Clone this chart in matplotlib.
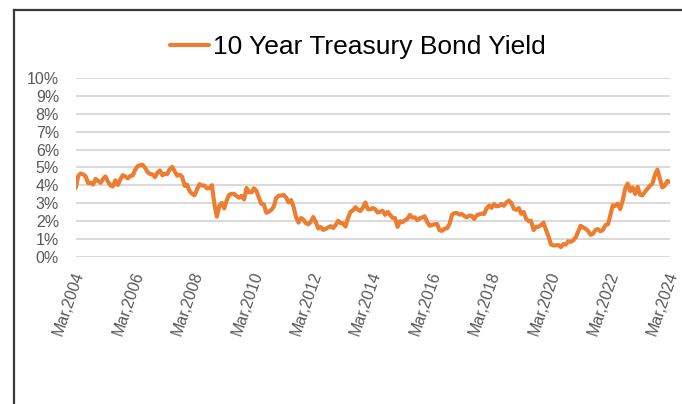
import numpy as np
import pandas as pd
import matplotlib
matplotlib.use("Agg")
import matplotlib.pyplot as plt
import matplotlib.transforms as mtransforms
from matplotlib.lines import Line2D

plt.rcParams['font.family'] = ['Liberation Sans', 'DejaVu Sans']

# Month-end 10-year Treasury yields (%), March 2004 - March 2024
series_name = "10 Year Treasury Bond Yield"
start_month = "2004-03"
yields = [
    # 2004 (Mar-Dec)
    3.86, 4.53, 4.66, 4.62, 4.50, 4.13, 4.14, 4.05, 4.36, 4.24,
    # 2005
    4.14, 4.36, 4.50, 4.21, 4.00, 3.94, 4.28, 4.02, 4.34, 4.57, 4.49, 4.39,
    # 2006
    4.53, 4.55, 4.86, 5.07, 5.12, 5.15, 4.99, 4.74, 4.64, 4.61, 4.46, 4.71,
    # 2007
    4.83, 4.56, 4.65, 4.63, 4.90, 5.03, 4.78, 4.54, 4.59, 4.48, 3.97, 4.04,
    # 2008
    3.67, 3.53, 3.45, 3.77, 4.06, 3.99, 3.99, 3.83, 3.85, 4.01, 2.93, 2.25,
    # 2009
    2.87, 3.02, 2.71, 3.16, 3.47, 3.53, 3.52, 3.40, 3.31, 3.41, 3.21, 3.85,
    # 2010
    3.63, 3.61, 3.84, 3.69, 3.31, 2.97, 2.94, 2.47, 2.53, 2.63, 2.81, 3.30,
    # 2011
    3.42, 3.43, 3.47, 3.32, 3.05, 3.18, 2.82, 2.23, 1.92, 2.17, 2.08, 1.89,
    # 2012
    1.83, 1.98, 2.23, 1.95, 1.59, 1.67, 1.51, 1.57, 1.65, 1.72, 1.62, 1.78,
    # 2013
    2.02, 1.89, 1.87, 1.70, 2.16, 2.52, 2.60, 2.78, 2.64, 2.57, 2.75, 3.04,
    # 2014
    2.67, 2.66, 2.73, 2.67, 2.48, 2.53, 2.58, 2.35, 2.52, 2.35, 2.18, 2.17,
    # 2015
    1.68, 2.00, 1.94, 2.05, 2.12, 2.35, 2.20, 2.21, 2.06, 2.16, 2.21, 2.27,
    # 2016
    1.94, 1.74, 1.78, 1.83, 1.84, 1.49, 1.46, 1.58, 1.60, 1.84, 2.37, 2.45,
    # 2017
    2.45, 2.36, 2.40, 2.29, 2.21, 2.31, 2.30, 2.12, 2.33, 2.38, 2.42, 2.40,
    # 2018
    2.72, 2.87, 2.74, 2.95, 2.83, 2.85, 2.96, 2.86, 3.05, 3.15, 3.01, 2.69,
    # 2019
    2.63, 2.73, 2.41, 2.51, 2.14, 2.00, 2.02, 1.50, 1.68, 1.69, 1.78, 1.92,
    # 2020
    1.51, 1.13, 0.70, 0.64, 0.65, 0.66, 0.55, 0.72, 0.69, 0.88, 0.84, 0.93,
    # 2021
    1.11, 1.44, 1.74, 1.65, 1.58, 1.45, 1.24, 1.30, 1.52, 1.55, 1.43, 1.52,
    # 2022
    1.78, 1.83, 2.32, 2.89, 2.85, 2.98, 2.67, 3.15, 3.83, 4.10, 3.68, 3.88,
    # 2023
    3.52, 3.92, 3.48, 3.44, 3.64, 3.81, 3.97, 4.09, 4.59, 4.88, 4.37, 3.88,
    # 2024 (Jan-Mar)
    3.99, 4.25, 4.20,
]
tick_years = list(range(2004, 2025, 2))
y_ticks = list(range(0, 11))

dates = pd.date_range(start=start_month, periods=len(yields), freq="MS")

fig = plt.figure(figsize=(6.82, 4.04), dpi=100)
ax = fig.add_axes([0.111, 0.364, 0.871, 0.443])

ax.plot(dates, yields, color="#ED7D31", linewidth=3.0,
        solid_joinstyle="round", solid_capstyle="round", label=series_name)

ax.set_xlim(dates[0], dates[-1])
ax.set_ylim(0, 10)

ax.set_yticks(y_ticks)
ax.set_yticklabels([f"{v}%" for v in y_ticks])
tick_dates = [pd.Timestamp(year=y, month=3, day=1) for y in tick_years]
ax.set_xticks(tick_dates)
ax.set_xticklabels([f"Mar,{y}" for y in tick_years], rotation=71,
                   ha="right", va="center", rotation_mode="anchor")

ax.tick_params(axis="both", length=0, colors="#595959", labelsize=11.5)
ax.tick_params(axis="x", pad=11)
ax.tick_params(axis="y", pad=12)

# nudge the rotated date labels slightly to the right
shift = mtransforms.ScaledTranslation(4 / 100, 0, fig.dpi_scale_trans)
for lbl in ax.get_xticklabels():
    lbl.set_transform(lbl.get_transform() + shift)

ax.grid(axis="y", color="#D9D9D9", linewidth=1.4)
ax.set_axisbelow(True)
for s in ax.spines.values():
    s.set_visible(False)

leg = fig.legend(loc="center", bbox_to_anchor=(0.525, 0.884), frameon=False,
                 fontsize=19, handlelength=1.5, handletextpad=0.15)
for h in leg.get_lines():
    h.set_linewidth(3.0)
for t in leg.get_texts():
    t.set_color("#000000")

# outer chart frame (top and left edges)
frame_kw = dict(color="#3A3A3A", linewidth=1.6, transform=fig.transFigure)
fig.add_artist(Line2D([14 / 682, 1.0], [1 - 9.5 / 404, 1 - 9.5 / 404], **frame_kw))
fig.add_artist(Line2D([14 / 682, 14 / 682], [0.0, 1 - 9.5 / 404], **frame_kw))

fig.savefig("out.png", dpi=100, facecolor="white")
